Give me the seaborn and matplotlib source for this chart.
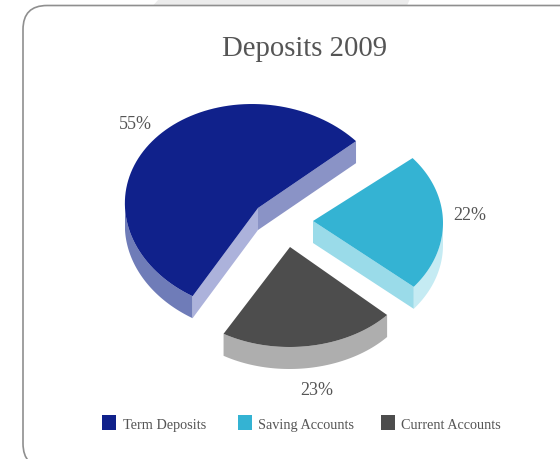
import numpy as np
import matplotlib
matplotlib.use("Agg")
import matplotlib.pyplot as plt
from matplotlib.patches import FancyBboxPatch, Polygon, Rectangle
import seaborn as sns

# Deposit mix for 2009, in percent
categories = ["Term Deposits", "Saving Accounts", "Current Accounts"]
shares = [55, 22, 23]
title_text = "Deposits 2009"

sns.set_theme(style="white")
plt.rcParams["font.family"] = ["Liberation Serif", "DejaVu Serif"]

top_colors = sns.color_palette(["#10218b", "#34b3d3", "#4d4d4d"])
cut_a_colors = ["#8a93c6", None, None]
cut_b_colors = ["#acb2db", "#9adbe9", None]
wall_colors = ["#6f7cb8", "#c5ebf3", "#aeaeae"]
text_color = "#555555"

# Projected geometry of each exploded slice, in figure pixels
apex = [(258, 209), (313, 222), (290, 248)]
centre = [(258, 209), (313, 224), (291.5, 261)]
radius_x = [133, 130, 125]
radius_y = [104, 101, 87]
skew_x = [-6, 0, 2]
depth = 22
start_angle = 40.0

label_xy = [(135, 124.5), (470, 215.5), (317, 390.5)]
swatch_x = [102, 238, 381]
legend_text_x = [123, 258, 401]
legend_y = 424

fig = plt.figure(figsize=(5.6, 4.6), dpi=100)
ax = fig.add_axes([0, 0, 1, 1])
ax.set_xlim(0, 560)
ax.set_ylim(460, 0)
ax.axis("off")

# Backdrop tab and rounded card
ax.add_patch(Polygon([(159, 0), (153, 6.5), (407, 6.5), (410, 0)], closed=True,
                     facecolor="#ececec", edgecolor="none"))
ax.add_patch(FancyBboxPatch((23, 6.5), 620, 462, boxstyle="round,pad=0,rounding_size=24",
                            facecolor="white", edgecolor="#8f8f8f", linewidth=1.2))


def arc_points(i, t0, t1, n=90):
    t = np.radians(np.linspace(t0, t1, n))
    x = centre[i][0] + radius_x[i] * np.cos(t) + skew_x[i] * np.sin(t)
    y = centre[i][1] - radius_y[i] * np.sin(t)
    return np.column_stack([x, y])


def extrude(points):
    lower = points[::-1] + np.array([0, depth])
    return np.vstack([points, lower])


# Slices run clockwise; the first one ends at start_angle
sweeps = np.array(shares) / sum(shares) * 360
ends = [start_angle + sweeps[0], start_angle, start_angle - sweeps[1]]
begins = [start_angle, start_angle - sweeps[1], start_angle - sweeps[1] - sweeps[2]]

for i in range(len(shares)):
    t0, t1 = begins[i], ends[i]
    rim = arc_points(i, t0, t1)
    tip = np.array(apex[i], dtype=float)

    # Outer wall, only where the rim faces the viewer
    if i == 0:
        wall_range = (180.0, t1)
    elif i == 1:
        wall_range = (t0, 0.0)
    else:
        wall_range = (t0, t1)
    wall = extrude(arc_points(i, *wall_range))
    ax.add_patch(Polygon(wall, closed=True, facecolor=wall_colors[i], edgecolor="none"))

    # Cut faces toward the viewer
    if cut_a_colors[i]:
        face = extrude(np.array([tip, rim[0]]))
        ax.add_patch(Polygon(face, closed=True, facecolor=cut_a_colors[i], edgecolor="none"))
    if cut_b_colors[i]:
        corner = rim[0] if i == 1 else rim[-1]
        face = extrude(np.array([tip, corner]))
        ax.add_patch(Polygon(face, closed=True, facecolor=cut_b_colors[i], edgecolor="none"))

    # Top surface
    ax.add_patch(Polygon(np.vstack([tip, rim]), closed=True, facecolor=top_colors[i],
                         edgecolor="none"))

    ax.text(*label_xy[i], f"{shares[i]}%", ha="center", va="center",
            fontsize=13, color=text_color)

ax.text(304, 48.5, title_text, ha="center", va="center", fontsize=20.7, color=text_color)

for i, name in enumerate(categories):
    ax.add_patch(Rectangle((swatch_x[i], legend_y - 8), 14, 15, facecolor=top_colors[i],
                           edgecolor="none"))
    ax.text(legend_text_x[i], legend_y + 1.5, name, ha="left", va="center", fontsize=10.3,
            color=text_color)

fig.savefig("out.png", dpi=100, facecolor="white")
